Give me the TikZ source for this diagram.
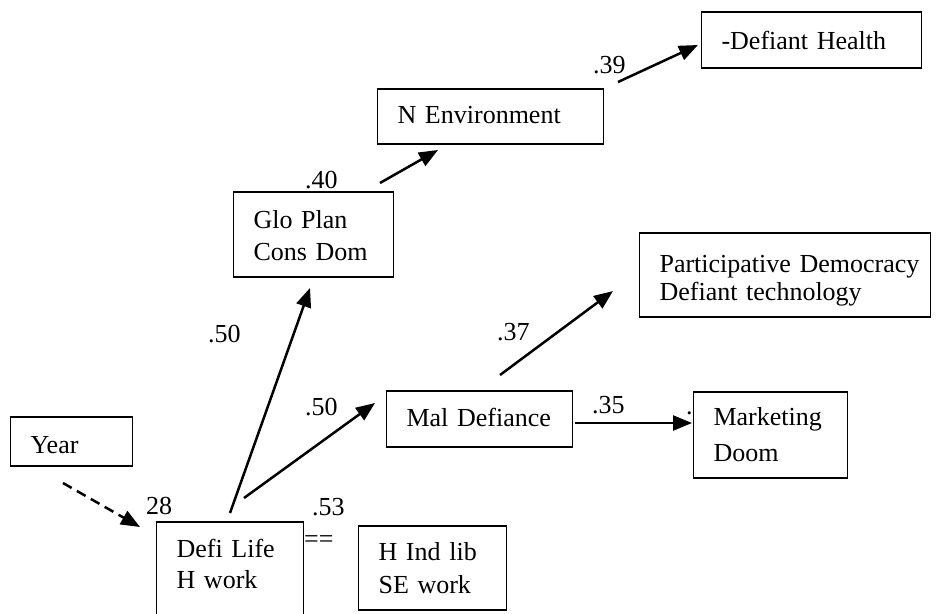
\documentclass[tikz,border=0pt]{standalone}
\usepackage{fontspec}
\setmainfont{Liberation Serif}
\usetikzlibrary{arrows.meta}
\begin{document}
\begin{tikzpicture}[x=1pt,y=-1pt,
  box/.style={draw, line width=1.1pt, inner sep=0pt, anchor=base west, align=left,
    font=\fontsize{26}{#1}\selectfont,
    execute at begin node={\leftskip=20pt\relax\rightskip=0pt plus 1fil\relax}},
  box/.default=31,
  coef/.style={inner sep=0pt, anchor=base west, font=\fontsize{26}{31}\selectfont},
  arr/.style={line width=2.5pt, -{Triangle[length=19pt,width=15pt]}},
  dasharr/.style={arr, dash pattern=on 10pt off 6pt}]

\path[use as bounding box, clip] (0,0) rectangle (936,613);

% boxes (placed by the baseline of their first line)
\node[box, text width=122pt, text height=36pt, text depth=13pt] (year) at (10,453) {Year};
\node[box, text width=147pt, text height=35pt, text depth=83pt] (defi) at (156,557) {Defi Life\\H work};
\node[box=33, text width=148pt, text height=34pt, text depth=50pt] (hind) at (358,560) {H Ind lib\\SE work};
\node[box=32, text width=160pt, text height=36pt, text depth=49pt] (glo) at (233,228) {Glo Plan\\Cons Dom};
\node[box, text width=226pt, text height=34pt, text depth=21pt] (nenv) at (377,123) {N Environment};
\node[box, text width=220pt, text height=37pt, text depth=19pt] (health) at (701,49) {-Defiant Health};
\node[box=28, text width=291pt, text height=39pt, text depth=45pt] (part) at (639,272) {Participative Democracy\\Defiant technology};
\node[box, text width=186pt, text height=35pt, text depth=21pt] (mal) at (386,426) {Mal Defiance};
\node[box=36, text width=154pt, text height=33pt, text depth=53pt] (mkt) at (693,425) {Marketing\\Doom};

% path coefficients
\node[coef] (c39) at (593,73) {.39};
\node[coef] (c40) at (305,188) {.40};
\node[coef] (c50a) at (208,342) {.50};
\node[coef] (c50b) at (305,415) {.50};
\node[coef] (c53) at (312,515) {.53};
\node[coef] (c28) at (146,514) {28};
\node[coef] (c37) at (497,340) {.37};
\node[coef] (c35) at (592,413) {.35};
\node[coef] (ceq) at (304,547) {==};
\node[coef] (cdot) at (686,414) {.};

% connector end points
\coordinate (year-out) at (63,483);
\coordinate (defi-in) at (140,527);
\coordinate (defi-out-glo) at (230,513);
\coordinate (glo-in) at (310,288);
\coordinate (defi-out-mal) at (244,498);
\coordinate (mal-in) at (375,403);
\coordinate (glo-out) at (380,183);
\coordinate (nenv-in) at (438,150);
\coordinate (nenv-out) at (618,82);
\coordinate (health-in) at (698,45);
\coordinate (mal-out-part) at (500,375);
\coordinate (part-in) at (613,291);
\coordinate (mal-out-mkt) at (575,423);
\coordinate (mkt-in) at (692,423);

% connectors
\draw[dasharr] (year-out) -- (defi-in);
\draw[arr] (defi-out-glo) -- (glo-in);
\draw[arr] (defi-out-mal) -- (mal-in);
\draw[arr] (glo-out) -- (nenv-in);
\draw[arr] (nenv-out) -- (health-in);
\draw[arr] (mal-out-part) -- (part-in);
\draw[arr] (mal-out-mkt) -- (mkt-in);
\end{tikzpicture}
\end{document}
